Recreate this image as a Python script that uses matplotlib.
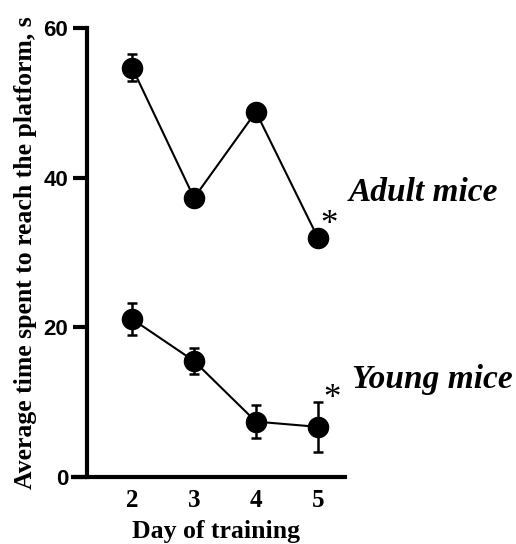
import matplotlib
matplotlib.use("Agg")
import matplotlib.pyplot as plt


DAYS = [2, 3, 4, 5]
ADULT_MEAN = [54.7, 37.3, 48.8, 32.0]
ADULT_ERR = [1.8, 0.0, 0.0, 0.0]
YOUNG_MEAN = [21.1, 15.5, 7.4, 6.7]
YOUNG_ERR = [2.1, 1.8, 2.2, 3.3]
GROUPS = ["Adult mice", "Young mice"]
Y_TICKS = [0, 20, 40, 60]

SERIF = "Liberation Serif"
SANS = "Liberation Sans"


def draw_series(ax, mean, err):
    ax.errorbar(
        DAYS, mean, yerr=err, color="black", marker="o", markersize=14.5,
        linewidth=1.5, elinewidth=1.8, capsize=3.5, capthick=1.8,
        clip_on=False
    )


def build_chart():
    fig = plt.figure(figsize=(5.16, 5.44), dpi=100)
    ax = fig.add_axes([0.1686, 0.1232, 0.5, 0.8253])

    draw_series(ax, ADULT_MEAN, ADULT_ERR)
    draw_series(ax, YOUNG_MEAN, YOUNG_ERR)

    ax.set_xlim(1.27, 5.44)
    ax.set_ylim(0, 60)
    ax.spines['top'].set_visible(False)
    ax.spines['right'].set_visible(False)
    ax.spines['left'].set_linewidth(3.0)
    ax.spines['bottom'].set_linewidth(3.0)
    ax.spines['bottom'].set_bounds(1.05, 5.44)

    ax.set_yticks(Y_TICKS)
    ax.set_yticklabels([str(v) for v in Y_TICKS], fontfamily=SANS,
                       fontweight='bold', fontsize=16)
    ax.tick_params(axis='y', length=10, width=3.0, pad=3.5)
    ax.set_xticks(DAYS)
    ax.set_xticklabels([str(d) for d in DAYS], fontfamily=SERIF,
                       fontweight='bold', fontsize=18)
    ax.tick_params(axis='x', length=0, pad=9)

    ax.set_xlabel('Day of training', fontfamily=SERIF, fontweight='bold',
                  fontsize=18.5, labelpad=5.5)
    ax.set_ylabel('Average time spent to reach the platform, s',
                  fontfamily=SERIF, fontweight='bold', fontsize=18.5,
                  labelpad=5)

    # significance marks
    ax.text(5.18, 33.6, '*', fontfamily=SERIF, fontsize=25, ha='center',
            va='center')
    ax.text(5.23, 10.4, '*', fontfamily=SERIF, fontsize=25, ha='center',
            va='center')

    # group labels
    ax.text(5.5, 38.0, GROUPS[0], fontfamily=SERIF, fontweight='bold',
            fontstyle='italic', fontsize=24, ha='left', va='center',
            clip_on=False)
    ax.text(5.55, 13.0, GROUPS[1], fontfamily=SERIF, fontweight='bold',
            fontstyle='italic', fontsize=24, ha='left', va='center',
            clip_on=False)

    fig.savefig('out.png', dpi=100)


if __name__ == '__main__':
    build_chart()
